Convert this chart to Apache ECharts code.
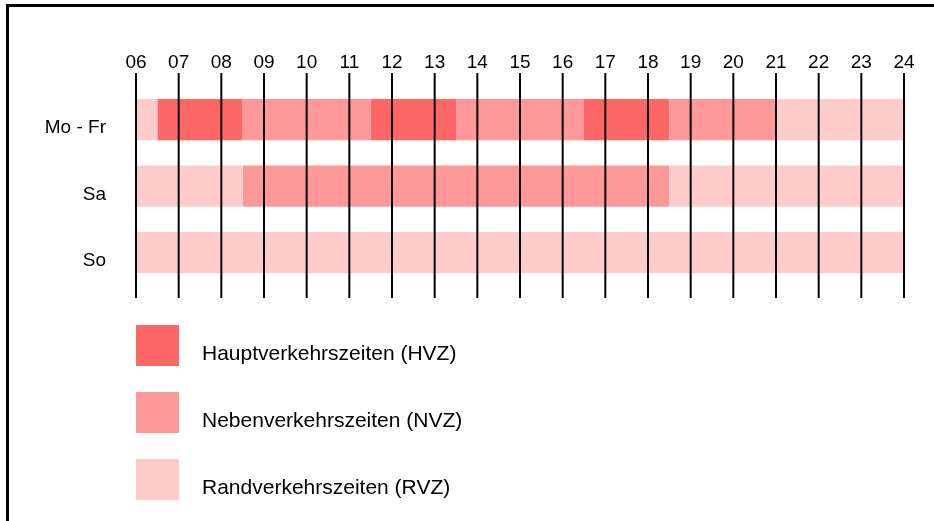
<!DOCTYPE html>
<html>
<head>
<meta charset="utf-8">
<title>Verkehrszeiten</title>
<script src="https://cdn.jsdelivr.net/npm/echarts@6/dist/echarts.min.js"></script>
<style>
html, body {
    margin: 0;
    padding: 0;
    background: #fff;
}

#chart {
    width: 934px;
    height: 521px;
}
</style>
</head>
<body>
<div id="chart"></div>
<script type="text/javascript">
// Zeilen (Wochentage) und Stunden
var days = ['Mo - Fr', 'Sa', 'So'];
var hours = [6, 7, 8, 9, 10, 11, 12, 13, 14, 15, 16, 17, 18, 19, 20, 21, 22, 23, 24];

// Zeitabschnitte je Zeile: [von, bis, Typ]
var moFrSegments = [
    [6, 6.5, 'RVZ'], [6.5, 8.5, 'HVZ'], [8.5, 11.5, 'NVZ'], [11.5, 13.5, 'HVZ'],
    [13.5, 16.5, 'NVZ'], [16.5, 18.5, 'HVZ'], [18.5, 21, 'NVZ'], [21, 24, 'RVZ']
];
var saSegments = [[6, 8.5, 'RVZ'], [8.5, 18.5, 'NVZ'], [18.5, 24, 'RVZ']];
var soSegments = [[6, 24, 'RVZ']];

var typeKeys = ['HVZ', 'NVZ', 'RVZ'];
var typeNames = ['Hauptverkehrszeiten (HVZ)', 'Nebenverkehrszeiten (NVZ)', 'Randverkehrszeiten (RVZ)'];
var typeColors = ['#FF6666', '#FF9999', '#FFCCCC'];

var FONT = "'Liberation Sans', Arial, sans-serif";
var Y_MIN = -0.7, Y_MAX = 2.68;

// Daten je Typ aus den Zeilen zusammenstellen: [Zeile, von, bis]
function segmentsFor(key) {
    var out = [];
    [moFrSegments, saSegments, soSegments].forEach(function (segs, row) {
        segs.forEach(function (s) {
            if (s[2] === key) out.push([row, s[0], s[1]]);
        });
    });
    return out;
}

function renderBar(params, api) {
    var start = api.coord([api.value(1), api.value(0)]);
    var end = api.coord([api.value(2), api.value(0)]);
    var h = api.size([0, 0.62])[1];
    return {
        type: 'rect',
        shape: { x: start[0], y: start[1] - h / 2, width: end[0] - start[0], height: h },
        style: api.style()
    };
}

function renderHourLine(params, api) {
    var top = api.coord([api.value(0), Y_MIN]);
    var bottom = api.coord([api.value(0), Y_MAX]);
    return {
        type: 'line',
        shape: { x1: top[0], y1: top[1], x2: bottom[0], y2: bottom[1] },
        style: { stroke: '#000', lineWidth: 2 }
    };
}

var series = typeKeys.map(function (key, i) {
    return {
        name: typeNames[i],
        type: 'custom',
        renderItem: renderBar,
        itemStyle: { color: typeColors[i] },
        encode: { x: [1, 2], y: 0 },
        data: segmentsFor(key),
        silent: true
    };
});

series.push({
    name: 'Stunden',
    type: 'custom',
    renderItem: renderHourLine,
    encode: { x: 0 },
    data: hours.map(function (h) { return [h]; }),
    z: 5,
    silent: true
});

let Chart = echarts.init(document.getElementById('chart'));
Chart.setOption({
    animation: false,
    backgroundColor: '#fff',
    textStyle: { fontFamily: FONT },
    grid: { left: 136, right: 30, top: 73, bottom: 223 },
    xAxis: {
        type: 'value',
        position: 'top',
        min: 6,
        max: 24,
        interval: 1,
        axisLine: { show: false },
        axisTick: { show: false },
        splitLine: { show: false },
        axisLabel: {
            margin: 1,
            fontSize: 19,
            color: '#000',
            fontFamily: FONT,
            formatter: function (v) { return (v < 10 ? '0' : '') + v; }
        }
    },
    yAxis: {
        type: 'value',
        inverse: true,
        min: Y_MIN,
        max: Y_MAX,
        axisLine: { show: false },
        axisTick: { show: false },
        splitLine: { show: false },
        axisLabel: {
            customValues: [0, 1, 2],
            margin: 30,
            fontSize: 19,
            lineHeight: 17,
            verticalAlign: 'top',
            color: '#000',
            fontFamily: FONT,
            formatter: function (v) { return days[v]; }
        }
    },
    legend: {
        data: typeNames,
        orient: 'vertical',
        left: 131,
        top: 320,
        itemWidth: 43,
        itemHeight: 41,
        itemGap: 26,
        icon: 'rect',
        selectedMode: false,
        // Leerzeile davor, damit der Text etwas unter der Kästchenmitte steht
        formatter: function (name) { return '\n' + name; },
        textStyle: {
            fontSize: 21,
            lineHeight: 18,
            color: '#000',
            fontFamily: FONT,
            padding: [0, 0, 0, 18]
        }
    },
    graphic: [
        { type: 'rect', shape: { x: 6, y: 4, width: 928, height: 3 }, style: { fill: '#000' } },
        { type: 'rect', shape: { x: 6, y: 4, width: 3, height: 517 }, style: { fill: '#000' } }
    ],
    series: series
});
</script>
</body>
</html>
